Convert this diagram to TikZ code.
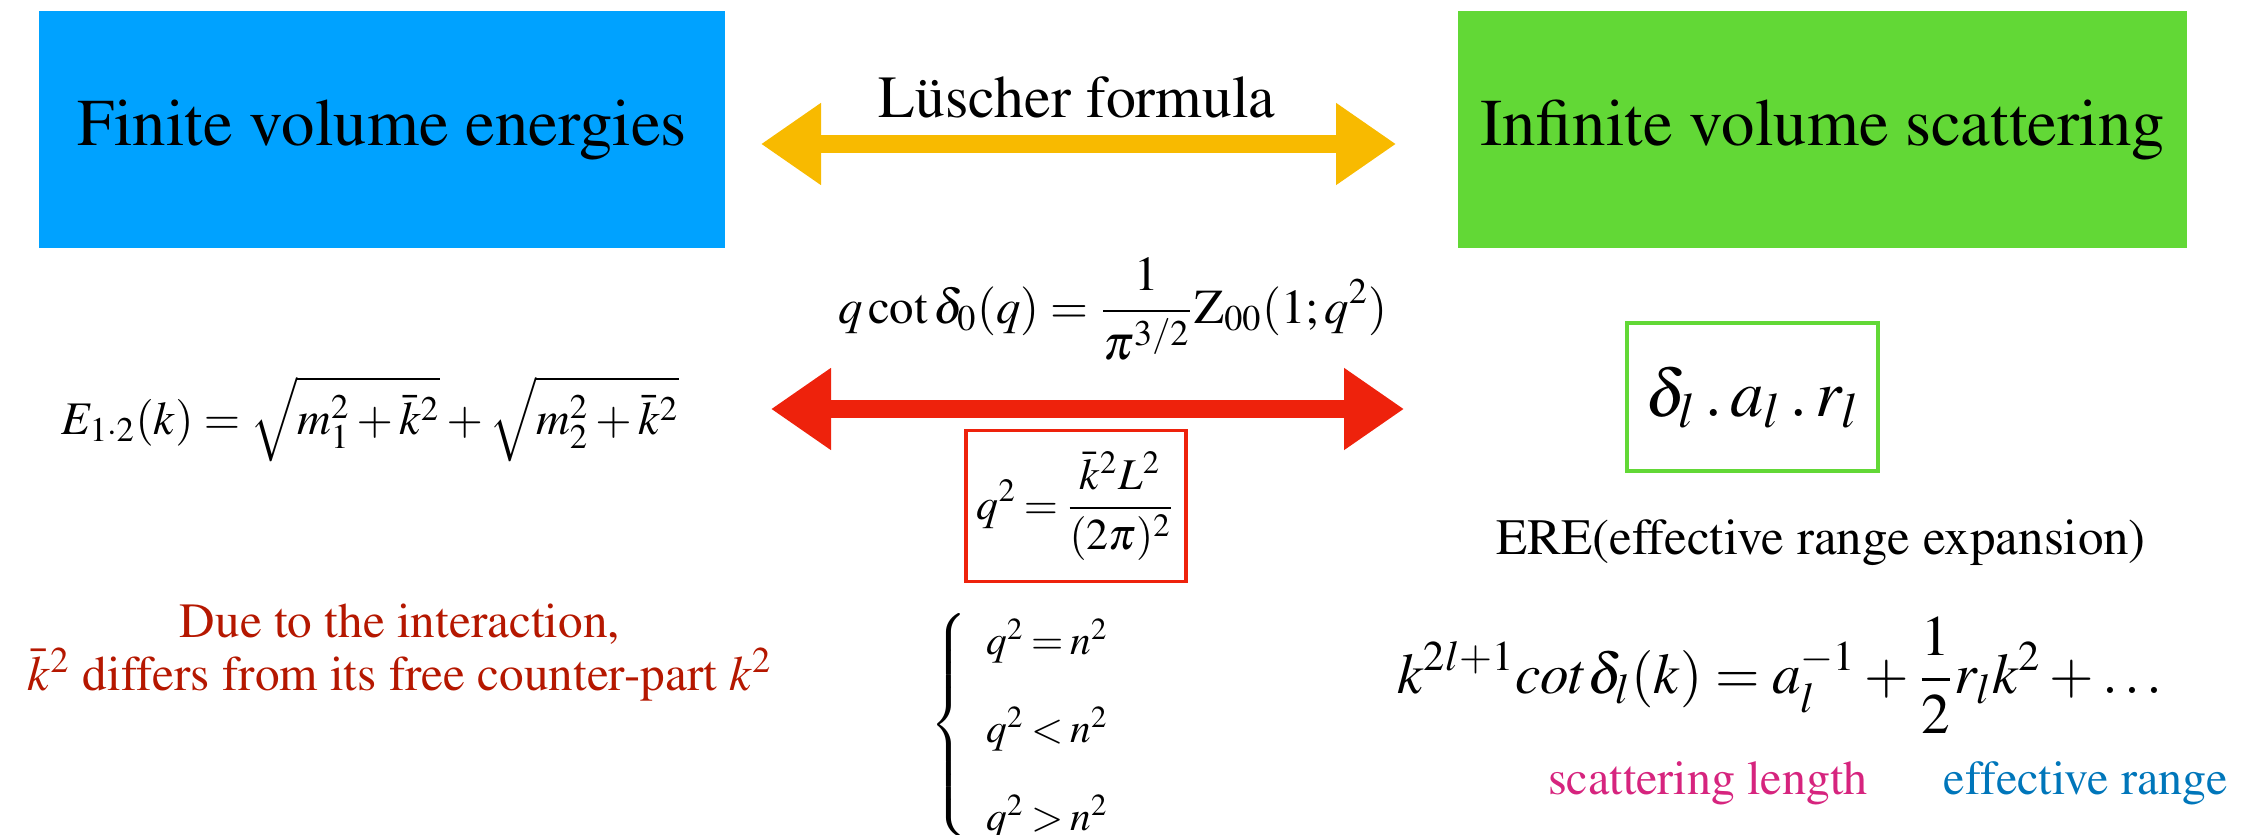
\documentclass[tikz,border=0pt]{standalone}
\usepackage{amsmath}
\usepackage[T1]{fontenc}
\usepackage{mathptmx}
\usepackage{xcolor}
\usetikzlibrary{positioning, arrows.meta}

\definecolor{fvblue}{RGB}{0,162,255}
\definecolor{ivgreen}{RGB}{98,216,54}
\definecolor{lyellow}{RGB}{248,186,0}
\definecolor{lred}{RGB}{238,34,12}
\definecolor{notered}{RGB}{181,23,0}
\definecolor{slmagenta}{RGB}{214,36,126}
\definecolor{erblue}{RGB}{0,118,186}

\begin{document}
\begin{tikzpicture}[
    bigbox/.style={rectangle, inner sep=0pt, minimum height=2.37cm, font=\fontsize{19}{23}\selectfont},
    framebox/.style={draw, rectangle, line width=0.035cm, inner sep=0pt},
    fatarrow/.style={line width=0.18cm, {Triangle[length=0.6cm, width=0.78cm]}-{Triangle[length=0.6cm, width=0.78cm]}},
    eqn/.style={inner sep=0pt, font=\fontsize{13}{16}\selectfont},
    note/.style={inner sep=0pt, align=center, font=\fontsize{13.7}{16}\selectfont}
]
    \useasboundingbox (0,0) rectangle (22.52,-8.35);

    % the two sides
    \node[bigbox, fill=fvblue, minimum width=6.86cm] (finite) at (3.82,-1.30) {Finite volume energies};
    \node[bigbox, fill=ivgreen, minimum width=7.29cm] (infinite) at (18.225,-1.30) {Infinite volume scattering};

    \coordinate (yleft) at (7.61,-1.44);
    \coordinate (yright) at (13.96,-1.44);
    \draw[fatarrow, lyellow] (yleft) -- (yright);
    \node[inner sep=0pt, font=\fontsize{17}{20}\selectfont] (luscher) at (10.77,-0.98) {L\"uscher formula};

    % middle column
    \node[eqn, font=\fontsize{13.9}{17}\selectfont] (qcot) at (11.13,-3.09) {$\displaystyle q\cot\delta_0(q)=\frac{1}{\pi^{3/2}}\mathrm{Z}_{00}(1;q^2)$};
    \coordinate (rleft) at (7.71,-4.09);
    \coordinate (rright) at (14.04,-4.09);
    \draw[fatarrow, lred] (rleft) -- (rright);
    \node[framebox, draw=lred, minimum width=2.20cm, minimum height=1.51cm, font=\fontsize{12.5}{15}\selectfont] (qbox) at (10.76,-5.06) {$\thickmuskip=3mu\displaystyle q^2=\frac{\bar{k}^2L^2}{(2\pi)^2}$};
    \node[eqn, font=\fontsize{11.8}{15}\selectfont] (qcases) at (10.28,-7.25) {$\thickmuskip=3mu\left\{\vrule height 31pt depth 31pt width 0pt\right.\renewcommand{\arraystretch}{1.67}\begin{array}{@{\hspace{3pt}}l} q^2=n^2\\ q^2<n^2\\ q^2>n^2\end{array}$};

    % left column
    \node[eqn, font=\fontsize{13.3}{16}\selectfont] (energy) at (3.70,-4.19) {$E_{1\cdot2}(k)=\sqrt{m_1^2+\bar{k}^2}+\sqrt{m_2^2+\bar{k}^2}$};
    \node[note, text=notered, font=\fontsize{14}{15}\selectfont] (kdiff) at (4.00,-6.53) {Due to the interaction,\\ $\bar{k}^2$ differs from its free counter-part $k^2$};

    % right column
    \node[framebox, draw=ivgreen, minimum width=2.51cm, minimum height=1.48cm, font=\fontsize{19}{22}\selectfont] (params) at (17.525,-3.97) {$\delta_l\,.\,a_l\,.\,r_l$};
    \node[inner sep=0pt, font=\fontsize{14.5}{17}\selectfont] (ere) at (18.21,-5.43) {ERE(effective range expansion)};
    \node[eqn, font=\fontsize{16.3}{20}\selectfont] (eref) at (17.80,-6.75) {$\displaystyle k^{2l+1}cot\delta_l(k)=a_l^{-1}+\frac{1}{2}r_lk^2+\ldots$};
    \node[note, text=slmagenta] (scatlen) at (17.08,-7.83) {scattering length};
    \node[note, text=erblue] (effrange) at (20.86,-7.83) {effective range};
\end{tikzpicture}
\end{document}
